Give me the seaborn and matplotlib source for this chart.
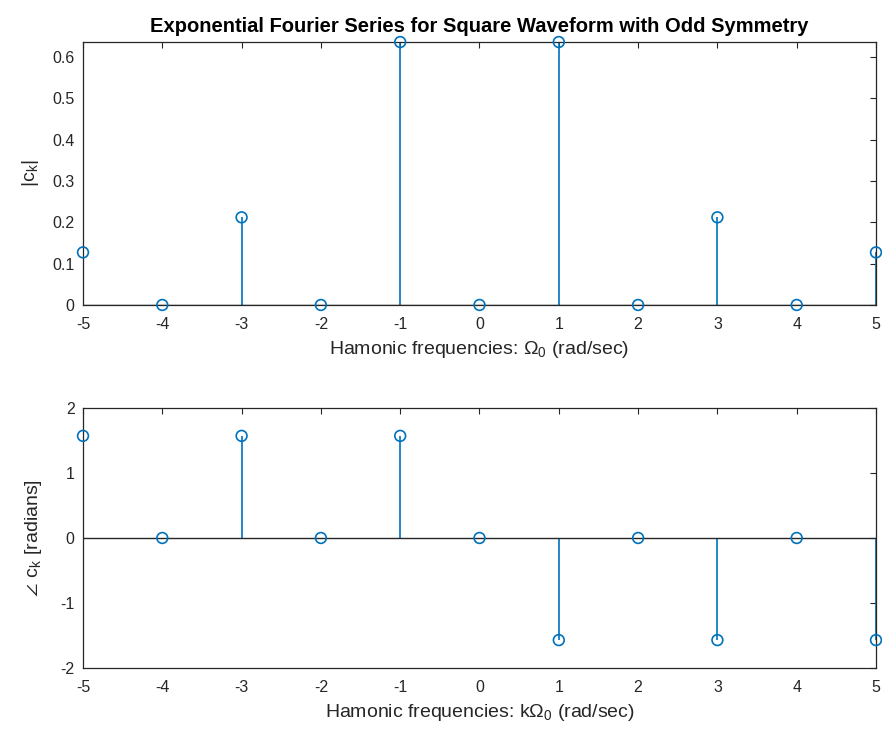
import numpy as np
import pandas as pd
import matplotlib
matplotlib.use("Agg")
import matplotlib.pyplot as plt
import seaborn as sns

# Data
k = [-5, -4, -3, -2, -1, 0, 1, 2, 3, 4, 5]
mag = [0.1273, 0.0, 0.2122, 0.0, 0.6366, 0.0, 0.6366, 0.0, 0.2122, 0.0, 0.1273]
phase = [1.5708, 0.0, 1.5708, 0.0, 1.5708, 0.0, -1.5708, 0.0, -1.5708, 0.0, -1.5708]
xticks = [-5, -4, -3, -2, -1, 0, 1, 2, 3, 4, 5]
top_yticks = [0, 0.1, 0.2, 0.3, 0.4, 0.5, 0.6]
bot_yticks = [-2, -1, 0, 1, 2]

sns.set_style("white")
plt.rcParams['font.family'] = ['Liberation Sans', 'DejaVu Sans']
plt.rcParams['mathtext.fontset'] = 'custom'
plt.rcParams['mathtext.rm'] = 'Liberation Sans'
plt.rcParams['mathtext.fallback'] = 'stixsans'
plt.rcParams['font.size'] = 10

BLUE = '#0072BD'
DARK = '#262626'

df = pd.DataFrame({'k': k, 'mag': mag, 'phase': phase})

fig = plt.figure(figsize=(8.82, 7.31), dpi=100)
ax1 = fig.add_axes([0.0941, 0.5828, 0.8991, 0.3597])
ax2 = fig.add_axes([0.0941, 0.0862, 0.8991, 0.3557])

def stem(ax, col):
    ax.vlines(df['k'], 0, df[col], color=BLUE, lw=1.2, zorder=2)
    ax.axhline(0, color=DARK, lw=1.0, zorder=3)
    sns.scatterplot(data=df, x='k', y=col, ax=ax, marker='o', s=60,
                    facecolor='none', edgecolor=BLUE, linewidth=1.2,
                    clip_on=False, zorder=4, legend=False)

stem(ax1, 'mag')
stem(ax2, 'phase')

for ax in (ax1, ax2):
    ax.set_xlim(-5, 5)
    ax.set_xticks(xticks)
    ax.set_xticklabels([str(t) for t in xticks])
    ax.tick_params(direction='in', length=4, width=0.8, top=True, right=True,
                   colors=DARK, labelcolor=DARK, labelsize=11.5, pad=6)
    ax.tick_params(axis='x', pad=9)
    for s in ax.spines.values():
        s.set_visible(True)
        s.set_color(DARK)
        s.set_linewidth(0.9)

ax1.set_ylim(0, 0.6366)
ax1.set_yticks(top_yticks)
ax1.set_yticklabels(['0', '0.1', '0.2', '0.3', '0.4', '0.5', '0.6'])
ax2.set_ylim(-2, 2)
ax2.set_yticks(bot_yticks)
ax2.set_yticklabels(['-2', '-1', '0', '1', '2'])

ax1.set_xlabel(r'Hamonic frequencies: $\Omega_\mathregular{0}$ (rad/sec)', color=DARK, fontsize=14, labelpad=5)
ax1.set_ylabel(r'|c$_\mathregular{k}$|', color=DARK, fontsize=14, labelpad=8)
ax2.set_xlabel(r'Hamonic frequencies: k$\Omega_\mathregular{0}$ (rad/sec)', color=DARK, fontsize=14, labelpad=5)
ax2.set_ylabel(r'$\angle\ $c$_\mathregular{k}$ [radians]', color=DARK, fontsize=14, labelpad=12)
ax1.set_title('Exponential Fourier Series for Square Waveform with Odd Symmetry',
              fontweight='bold', fontsize=14.5, color='black', pad=7)

fig.savefig('out.png', dpi=100)
